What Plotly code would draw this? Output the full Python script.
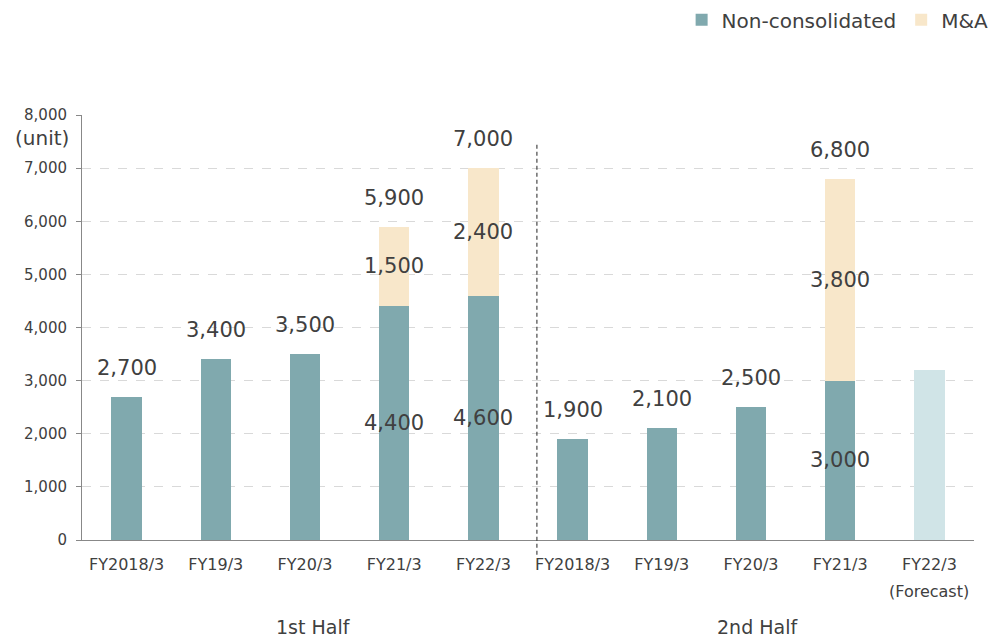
import plotly.graph_objects as go

categories = ["FY2018/3", "FY19/3", "FY20/3", "FY21/3", "FY22/3",
              "FY2018/3", "FY19/3", "FY20/3", "FY21/3", "FY22/3"]
non_consolidated = [2700, 3400, 3500, 4400, 4600, 1900, 2100, 2500, 3000, 3200]
mna = [0, 0, 0, 1500, 2400, 0, 0, 0, 3800, 0]
forecast = [False] * 9 + [True]
y_ticks = [0, 1000, 2000, 3000, 4000, 5000, 6000, 7000, 8000]
half_labels = ["1st Half", "2nd Half"]

TEAL = "#80a9ae"
BEIGE = "#f8e7ca"
FORECAST = "#d0e4e7"
TXT = "#404040"
FONT = "DejaVu Sans"

x = list(range(len(categories)))
nc_colors = [FORECAST if f else TEAL for f in forecast]

fig = go.Figure()
fig.add_trace(go.Bar(x=x, y=non_consolidated, name="Non-consolidated",
                     marker=dict(color=nc_colors, line=dict(width=0)),
                     width=0.34, hoverinfo="skip"))
fig.add_trace(go.Bar(x=x, y=mna, name="M&A",
                     marker=dict(color=BEIGE, line=dict(width=0)),
                     width=0.34, hoverinfo="skip"))

annotations = []
for i in x:
    if forecast[i]:
        continue
    total = non_consolidated[i] + mna[i]
    annotations.append(dict(x=i, y=total, xref="x", yref="y", text=f"{total:,}",
                            showarrow=False, yanchor="middle", yshift=29,
                            font=dict(size=21, color=TXT, family=FONT)))
    if mna[i] > 0:
        annotations.append(dict(x=i, y=non_consolidated[i] / 2, xref="x", yref="y",
                                text=f"{non_consolidated[i]:,}", showarrow=False,
                                font=dict(size=21, color=TXT, family=FONT)))
        annotations.append(dict(x=i, y=non_consolidated[i] + mna[i] / 2, xref="x", yref="y",
                                text=f"{mna[i]:,}", showarrow=False,
                                font=dict(size=21, color=TXT, family=FONT)))

annotations.append(dict(x=9, y=-0.12, xref="x", yref="paper", text="(Forecast)",
                        showarrow=False, yanchor="middle",
                        font=dict(size=16, color=TXT, family=FONT)))
annotations.append(dict(x=2.1, y=-0.205, xref="x", yref="paper", text=half_labels[0],
                        showarrow=False, yanchor="middle",
                        font=dict(size=19, color=TXT, family=FONT)))
annotations.append(dict(x=7.07, y=-0.205, xref="x", yref="paper", text=half_labels[1],
                        showarrow=False, yanchor="middle",
                        font=dict(size=19, color=TXT, family=FONT)))
annotations.append(dict(x=-0.012, y=0.946, xref="paper", yref="paper", text="(unit)",
                        showarrow=False, xanchor="right", yanchor="middle",
                        font=dict(size=20, color=TXT, family=FONT)))

fig.update_layout(
    barmode="stack",
    width=992, height=639,
    margin=dict(l=82, r=18, t=115, b=99, autoexpand=False),
    paper_bgcolor="white", plot_bgcolor="white",
    font=dict(family=FONT, color=TXT),
    showlegend=True,
    legend=dict(orientation="h", x=1.022, xanchor="right", y=1.27, yanchor="top",
                font=dict(size=20, color=TXT, family=FONT), traceorder="normal",
                itemwidth=30),
    annotations=annotations,
    shapes=[dict(type="line", xref="x", yref="paper", x0=4.6, x1=4.6, y0=0.93, y1=-0.04,
                 line=dict(color="#222222", width=1, dash="4px,3px"))],
    xaxis=dict(range=[-0.5, 9.5], tickmode="array", tickvals=x, ticktext=categories,
               tickfont=dict(size=16, color=TXT, family=FONT),
               showgrid=False, zeroline=False, showline=True, linecolor="#888888",
               linewidth=1, ticks="outside", ticklen=10, tickcolor="rgba(0,0,0,0)",
               automargin=False),
    yaxis=dict(range=[0, 8000], tickmode="array", tickvals=y_ticks,
               tickformat=",d", tickfont=dict(size=15, color=TXT, family=FONT),
               showgrid=True, gridcolor="#d9d9d9", griddash="dash", gridwidth=1,
               zeroline=False, showline=True, linecolor="#888888", linewidth=1,
               ticks="outside", ticklen=5, tickcolor="#888888", ticklabelstandoff=6,
               automargin=False),
)

fig.write_html("out.html", post_script="document.body.style.margin='0';",
               config={"displayModeBar": False})
